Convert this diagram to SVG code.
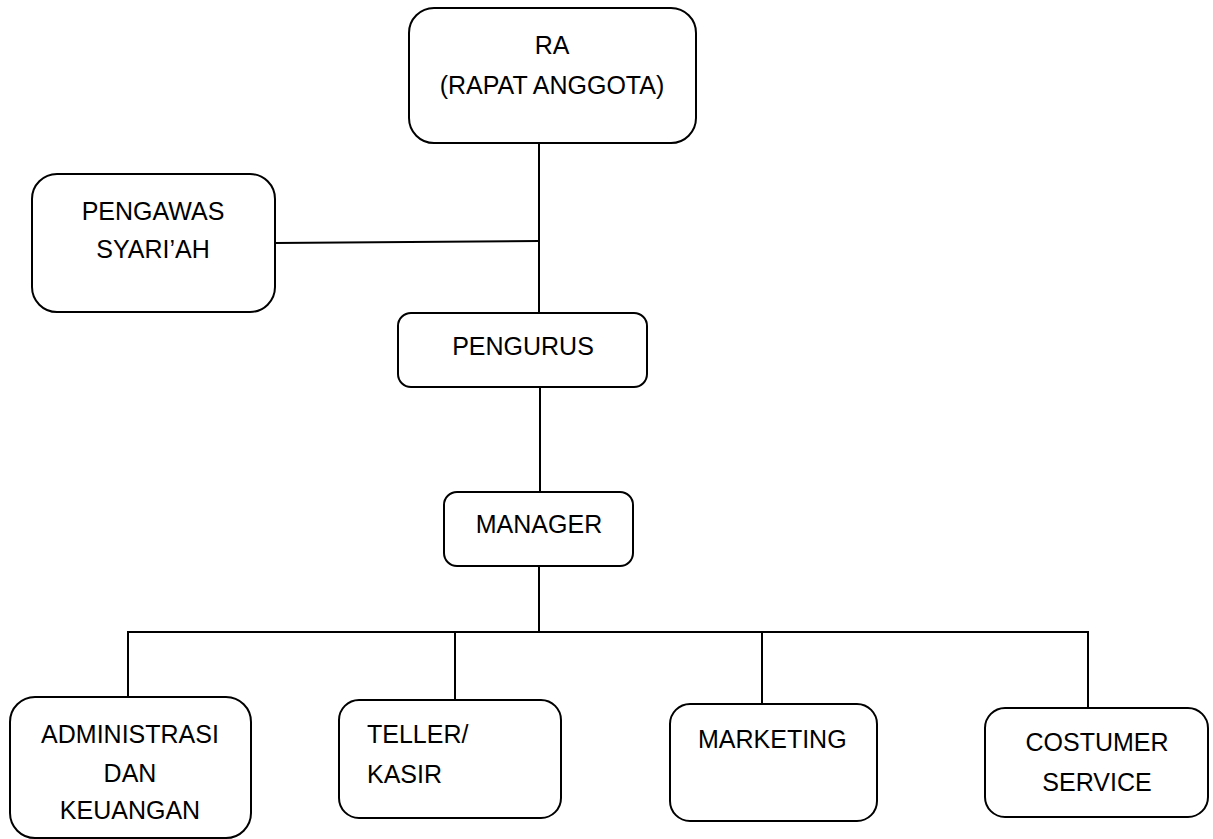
<svg xmlns="http://www.w3.org/2000/svg" width="1213" height="839" viewBox="0 0 1213 839">
  <style>
    .box { fill: #ffffff; stroke: #000000; stroke-width: 2; }
    .conn { fill: none; stroke: #000000; stroke-width: 2; }
    text { font-family: "Liberation Sans", Arial, sans-serif; font-size: 25px; fill: #000000; }
    .c { text-anchor: middle; }
  </style>
  <rect width="1213" height="839" fill="#ffffff"/>
  <g id="connectors">
    <line class="conn" x1="539" y1="143" x2="539" y2="313"/>
    <line class="conn" x1="275" y1="243" x2="539" y2="241"/>
    <line class="conn" x1="540" y1="387" x2="540" y2="492"/>
    <line class="conn" x1="539" y1="566" x2="539" y2="632"/>
    <line class="conn" x1="127" y1="632" x2="1089" y2="632"/>
    <line class="conn" x1="128" y1="632" x2="128" y2="697"/>
    <line class="conn" x1="455" y1="632" x2="455" y2="700"/>
    <line class="conn" x1="762" y1="632" x2="762" y2="704"/>
    <line class="conn" x1="1088" y1="632" x2="1088" y2="708"/>
  </g>
  <g id="ra">
    <rect class="box" x="409" y="8" width="287" height="135" rx="25" ry="25"/>
    <text class="c" x="552" y="54">RA</text>
    <text class="c" x="552" y="94">(RAPAT ANGGOTA)</text>
  </g>
  <g id="pengawas">
    <rect class="box" x="32" y="174" width="243" height="138" rx="25" ry="25"/>
    <text class="c" x="153" y="220">PENGAWAS</text>
    <text class="c" x="153" y="258">SYARI’AH</text>
  </g>
  <g id="pengurus">
    <rect class="box" x="398" y="313" width="249" height="74" rx="13" ry="13"/>
    <text class="c" x="523" y="355">PENGURUS</text>
  </g>
  <g id="manager">
    <rect class="box" x="444" y="492" width="189" height="74" rx="13" ry="13"/>
    <text class="c" x="539" y="533">MANAGER</text>
  </g>
  <g id="administrasi">
    <rect class="box" x="10" y="697" width="241" height="141" rx="25" ry="25"/>
    <text class="c" x="130" y="743">ADMINISTRASI</text>
    <text class="c" x="130" y="782">DAN</text>
    <text class="c" x="130" y="819">KEUANGAN</text>
  </g>
  <g id="teller">
    <rect class="box" x="339" y="700" width="222" height="118" rx="20" ry="20"/>
    <text x="367" y="743">TELLER/</text>
    <text x="367" y="783">KASIR</text>
  </g>
  <g id="marketing">
    <rect class="box" x="670" y="704" width="207" height="117" rx="20" ry="20"/>
    <text x="698" y="748">MARKETING</text>
  </g>
  <g id="costumer">
    <rect class="box" x="985" y="708" width="223" height="109" rx="20" ry="20"/>
    <text class="c" x="1097" y="751">COSTUMER</text>
    <text class="c" x="1097" y="791">SERVICE</text>
  </g>
</svg>
